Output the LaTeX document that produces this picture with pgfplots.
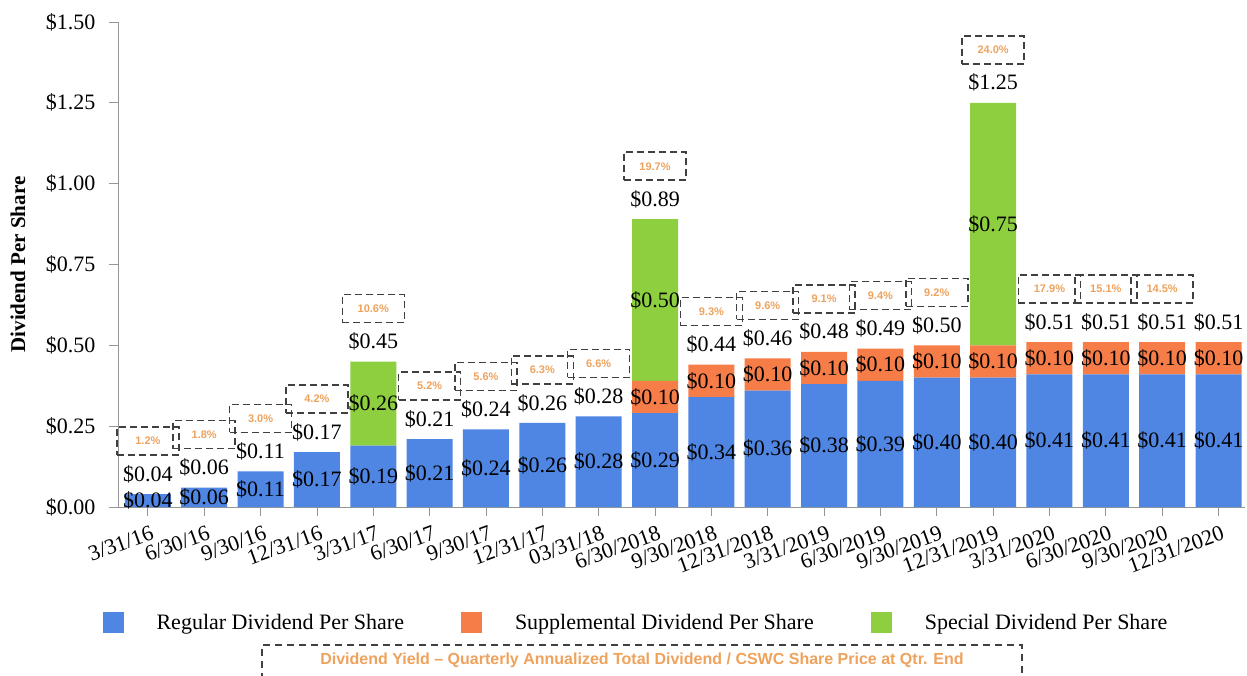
\documentclass[border=0pt]{standalone}
\usepackage{fontspec}
\setmainfont{Liberation Serif}
\newfontfamily\arialfont{Liberation Sans}
\usepackage{pgfplots}
\usepackage{pgfplotstable}
\pgfplotsset{compat=1.18}
\pgfplotsset{/pgf/number format/assume math mode=true}

\definecolor{cblue}{RGB}{79,134,227}
\definecolor{corange}{RGB}{246,124,72}
\definecolor{cgreen}{RGB}{141,207,63}
\definecolor{cyield}{RGB}{238,162,92}
\definecolor{caxis}{RGB}{150,150,150}

\pgfplotstableread{
x reg sup spec tot yld
0 0.04 0 0 0.04 1.2
1 0.06 0 0 0.06 1.8
2 0.11 0 0 0.11 3.0
3 0.17 0 0 0.17 4.2
4 0.19 0 0.26 0.45 10.6
5 0.21 0 0 0.21 5.2
6 0.24 0 0 0.24 5.6
7 0.26 0 0 0.26 6.3
8 0.28 0 0 0.28 6.6
9 0.29 0.10 0.50 0.89 19.7
10 0.34 0.10 0 0.44 9.3
11 0.36 0.10 0 0.46 9.6
12 0.38 0.10 0 0.48 9.1
13 0.39 0.10 0 0.49 9.4
14 0.40 0.10 0 0.50 9.2
15 0.40 0.10 0.75 1.25 24.0
16 0.41 0.10 0 0.51 17.9
17 0.41 0.10 0 0.51 15.1
18 0.41 0.10 0 0.51 14.5
19 0.41 0.10 0 0.51 0
}\data

\pgfplotstableread{
x base val
4 0.19 0.26
9 0.39 0.50
15 0.50 0.75
}\spectab

\pgfplotsset{
  myaxis/.style={scale only axis, width=1127pt, height=485pt,
    xmin=-0.53, xmax=19.47, ymin=0, ymax=1.5, at={(0pt,0pt)}, anchor=south west},
  invis/.style={only marks, mark=text, text mark={}},
  dollar/.style={invis, nodes near coords={\$\pgfmathprintnumber[fixed,fixed zerofill,precision=2]{\pgfplotspointmeta}},
    point meta=explicit,
    every node near coord/.style={anchor=center, font=\fontsize{22}{24}\selectfont, inner sep=0pt}},
}

\begin{document}
\begin{tikzpicture}
\begin{axis}[myaxis, ybar stacked, bar width=46pt,
  axis x line*=bottom, axis y line*=left,
  axis line style={caxis, line width=0.8pt},
  tick style={caxis, line width=0.8pt}, tick align=outside, major tick length=9pt,
  xtick={0,...,19},
  xticklabels={3/31/16,6/30/16,9/30/16,12/31/16,3/31/17,6/30/17,9/30/17,12/31/17,03/31/18,6/30/2018,9/30/2018,12/31/2018,3/31/2019,6/30/2019,9/30/2019,12/31/2019,3/31/2020,6/30/2020,9/30/2020,12/31/2020},
  ytick={0,0.25,0.5,0.75,1,1.25,1.5},
  yticklabel={\$\pgfmathprintnumber[fixed,fixed zerofill,precision=2]{\tick}},
  ticklabel style={font=\fontsize{22}{24}\selectfont},
  yticklabel style={xshift=-10pt},
  xticklabel style={rotate=20, anchor=north east, inner sep=1pt, yshift=-8pt},
  ylabel={Dividend Per Share},
  ylabel style={font=\fontsize{21}{23}\selectfont\bfseries, at={(axis description cs:-0.0887,0.5)}, anchor=center},
  legend columns=3,
  legend style={draw=none, at={(0.4596,-0.239)}, anchor=center, font=\fontsize{22}{24}\selectfont,
    /tikz/every odd column/.append style={column sep=31pt},
    /tikz/every even column/.append style={column sep=55pt}},
  legend image code/.code={\fill[#1] (0pt,-10.5pt) rectangle (21pt,10.5pt);},
]
\addplot[fill=cblue, draw=none] table[x=x, y=reg] {\data};
\addlegendentry{Regular Dividend Per Share}
\addplot[fill=corange, draw=none] table[x=x, y=sup] {\data};
\addlegendentry{Supplemental Dividend Per Share}
\addplot[fill=cgreen, draw=none] table[x=x, y=spec] {\data};
\addlegendentry{Special Dividend Per Share}
\end{axis}

\begin{axis}[myaxis, hide axis, clip=false]
% regular segment labels
\addplot[dollar] table[x=x, y expr=\thisrow{reg}/2, meta=reg] {\data};
% supplemental segment labels
\addplot[dollar, skip coords between index={0}{9}] table[x=x, y expr=\thisrow{reg}+\thisrow{sup}/2, meta=sup] {\data};
% special segment labels
\addplot[dollar] table[x=x, y expr=\thisrow{base}+\thisrow{val}/2, meta=val] {\spectab};
% totals
\addplot[dollar, every node near coord/.append style={yshift=20pt}] table[x=x, y=tot, meta=tot] {\data};
% yield boxes
\addplot[invis,
  skip coords between index={19}{20}, point meta=explicit,
  nodes near coords={\pgfmathprintnumber[fixed,fixed zerofill,precision=1]{\pgfplotspointmeta}\%},
  every node near coord/.style={anchor=center, yshift=53pt, draw=black!75, line width=1.5pt,
    dash pattern=on 7pt off 4pt, minimum width=62pt, minimum height=28pt, inner sep=0pt,
    text=cyield, font=\arialfont\bfseries\fontsize{11}{12}\selectfont}]
  table[x=x, y=tot, meta=yld] {\data};
\end{axis}

\draw[black!75, line width=1.4pt, dash pattern=on 7pt off 5pt]
  (144pt,-185pt) -- (144pt,-138pt) -- (904pt,-138pt) -- (904pt,-185pt);
\node[text=cyield, font=\arialfont\bfseries\fontsize{16}{18}\selectfont] at (524pt,-153pt)
  {Dividend Yield – Quarterly Annualized Total Dividend / CSWC Share Price at Qtr. End};

\pgfresetboundingbox
\path[use as bounding box] (-118pt,-168pt) rectangle (1129pt,507pt);
\end{tikzpicture}
\end{document}
